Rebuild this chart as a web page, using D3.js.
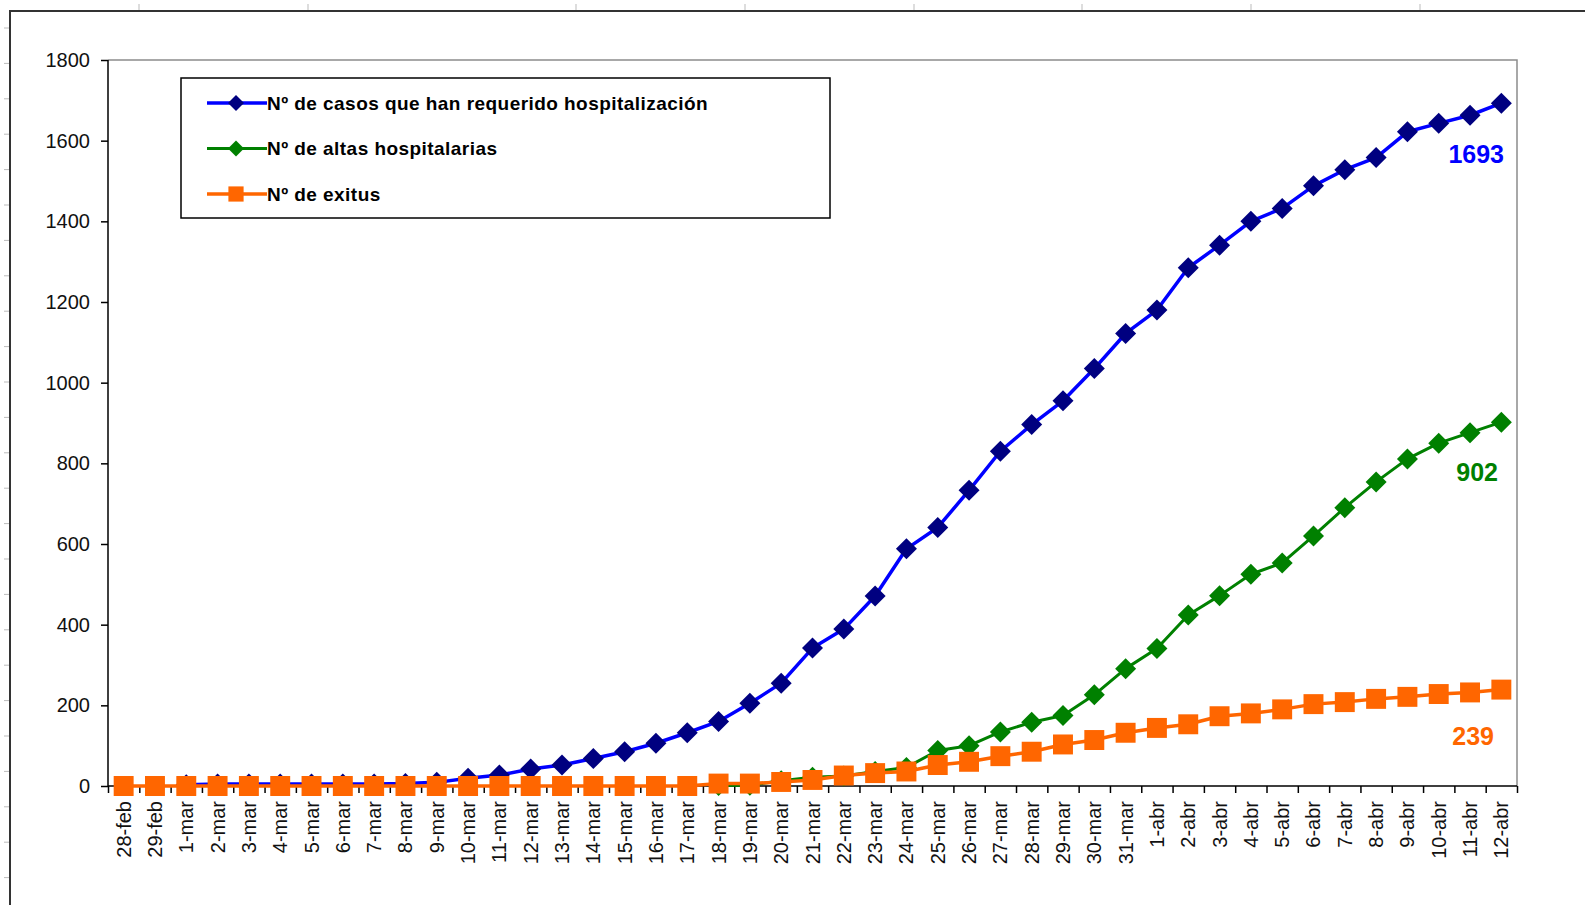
<!DOCTYPE html>
<html>
<head>
<meta charset="utf-8">
<script src="https://cdn.jsdelivr.net/npm/d3@7"></script>
<style>
  html, body { margin: 0; padding: 0; background: #fff; }
  svg { display: block; font-family: "Liberation Sans", Arial, sans-serif; }
</style>
</head>
<body>
<svg id="chart"></svg>
<script>
// Fechas del eje X
const fechas = [
  '28-feb', '29-feb',
  '1-mar', '2-mar', '3-mar', '4-mar', '5-mar', '6-mar', '7-mar', '8-mar',
  '9-mar', '10-mar', '11-mar', '12-mar', '13-mar', '14-mar', '15-mar',
  '16-mar', '17-mar', '18-mar', '19-mar', '20-mar', '21-mar', '22-mar',
  '23-mar', '24-mar', '25-mar', '26-mar', '27-mar', '28-mar', '29-mar',
  '30-mar', '31-mar',
  '1-abr', '2-abr', '3-abr', '4-abr', '5-abr', '6-abr', '7-abr', '8-abr',
  '9-abr', '10-abr', '11-abr', '12-abr',
];

// Nº de casos que han requerido hospitalización
const hospitalizados = [
  null, null, 3, 5, 5, 5, 5, 5, 5, 6,
  9, 19, 27, 42, 52, 68, 85, 106, 132, 160,
  205, 255, 342, 389, 471, 588, 641, 733, 830, 896,
  955, 1035, 1122, 1180, 1285, 1341, 1400, 1432, 1488, 1528,
  1558, 1622, 1643, 1663, 1693,
];

// Nº de altas hospitalarias
const altas = [
  null, null, null, null, null, null, null, null, null, null,
  null, null, null, null, null, null, null, null, null, 1,
  2, 13, 22, 25, 36, 46, 88, 100, 134, 158,
  175, 226, 291, 341, 424, 472, 525, 553, 620, 690,
  754, 811, 850, 876, 902,
];

// Nº de exitus
const exitus = [
  0, 0, 0, 0, 0, 0, 0, 0, 0, 0,
  0, 0, 0, 0, 0, 0, 0, 0, 0, 6,
  6, 10, 15, 26, 32, 36, 52, 60, 74, 85,
  103, 114, 132, 144, 153, 173, 180, 190, 203, 208,
  216, 221, 228, 232, 239,
];

const yTicks = [0, 200, 400, 600, 800, 1000, 1200, 1400, 1600, 1800];

const series = [
  {name: 'Nº de casos que han requerido hospitalización', values: hospitalizados,
    line: '#0000ff', marker: '#000080', shape: 'diamond', width: 3.5,
    label: '#0000ff'},
  {name: 'Nº de altas hospitalarias', values: altas,
    line: '#008000', marker: '#008000', shape: 'diamond', width: 3,
    label: '#008000'},
  {name: 'Nº de exitus', values: exitus,
    line: '#ff6600', marker: '#ff6600', shape: 'square', width: 3.5,
    label: '#ff6600'},
];

const width = 1585;
const height = 905;
const plot = {left: 108, right: 1517, top: 60, bottom: 786};

const svg = d3.select('#chart')
    .attr('width', width)
    .attr('height', height)
    .attr('viewBox', [0, 0, width, height]);

// Outer sheet frame with the little spreadsheet grid marks
svg.append('g')
    .attr('stroke', '#bbb')
    .attr('stroke-width', 1)
    .selectAll('line')
    .data([139, 308, 576, 745, 914, 1082, 1251, 1420])
    .join('line')
    .attr('x1', (d) => d).attr('x2', (d) => d)
    .attr('y1', 4).attr('y2', 10);

svg.append('g')
    .attr('stroke', '#bbb')
    .attr('stroke-width', 1)
    .selectAll('line')
    .data(d3.range(25).map((k) => 28 + k * 35.4))
    .join('line')
    .attr('x1', 4).attr('x2', 9)
    .attr('y1', (d) => d).attr('y2', (d) => d);

svg.append('path')
    .attr('d', `M10,${height} V11 H${width}`)
    .attr('fill', 'none')
    .attr('stroke', '#333')
    .attr('stroke-width', 2);

// Scales
const x = d3.scaleBand()
    .domain(fechas)
    .range([plot.left, plot.right]);
const xEdge = d3.scaleLinear()
    .domain([0, fechas.length])
    .range([plot.left, plot.right]);
const y = d3.scaleLinear()
    .domain([0, 1800])
    .range([plot.bottom, plot.top]);
const cx = (d) => x(d) + x.bandwidth() / 2;

// Plot area border (top & right grey)
svg.append('path')
    .attr('d', `M${plot.left},${plot.top} H${plot.right} V${plot.bottom}`)
    .attr('fill', 'none')
    .attr('stroke', '#8c8c8c')
    .attr('stroke-width', 1.5);

// Y axis
const yAxis = svg.append('g')
    .attr('transform', `translate(${plot.left},0)`)
    .call(d3.axisLeft(y).tickValues(yTicks).tickFormat(d3.format('d'))
        .tickSize(7).tickPadding(11));
yAxis.select('.domain').remove();
yAxis.selectAll('.tick line').attr('stroke', '#000').attr('stroke-width', 1.5);
yAxis.selectAll('.tick text')
    .attr('font-size', 20)
    .attr('font-family', '"Liberation Sans", Arial, sans-serif')
    .attr('fill', '#111');

// X axis ticks between categories
const xAxis = svg.append('g')
    .attr('transform', `translate(0,${plot.bottom})`)
    .call(d3.axisBottom(xEdge).tickValues(d3.range(fechas.length + 1))
        .tickSize(7).tickFormat(''));
xAxis.select('.domain').remove();
xAxis.selectAll('.tick line').attr('stroke', '#000').attr('stroke-width', 1.5);

// X labels, rotated
svg.append('g')
    .selectAll('text')
    .data(fechas)
    .join('text')
    .attr('transform', (d) => `translate(${cx(d)},801) rotate(-90)`)
    .attr('text-anchor', 'end')
    .attr('dy', '0.35em')
    .attr('font-size', 20)
    .attr('fill', '#111')
    .text((d) => d);

// Axis lines (black)
svg.append('path')
    .attr('d', `M${plot.left},${plot.top} V${plot.bottom} H${plot.right}`)
    .attr('fill', 'none')
    .attr('stroke', '#000')
    .attr('stroke-width', 1.5);

// Markers
const diamond = (r) => `M0,${-r} L${r},0 L0,${r} L${-r},0 Z`;
const square = (r) => `M${-r},${-r} H${r} V${r} H${-r} Z`;
const shapePath = (s, size) => s.shape === 'square' ? square(size * 0.95) : diamond(size);

const line = d3.line()
    .defined((d) => d != null)
    .x((d, i) => cx(fechas[i]))
    .y((d) => y(d));

series.forEach((s) => {
  const g = svg.append('g');
  g.append('path')
      .attr('d', line(s.values))
      .attr('fill', 'none')
      .attr('stroke', s.line)
      .attr('stroke-width', s.width)
      .attr('stroke-linejoin', 'round');
  g.selectAll('path.m')
      .data(s.values.map((v, i) => ({v, i})).filter((d) => d.v != null))
      .join('path')
      .attr('class', 'm')
      .attr('transform', (d) => `translate(${cx(fechas[d.i])},${y(d.v)})`)
      .attr('d', shapePath(s, 10.5))
      .attr('fill', s.marker);
});

// Last value labels
const last = fechas.length - 1;
const labelPos = [
  {x: 1504, y: 163},
  {x: 1498, y: 481},
  {x: 1494, y: 745},
];
series.forEach((s, k) => {
  svg.append('text')
      .attr('x', labelPos[k].x)
      .attr('y', labelPos[k].y)
      .attr('text-anchor', 'end')
      .attr('font-size', 25)
      .attr('font-weight', 'bold')
      .attr('fill', s.label)
      .text(s.values[last]);
});

// Legend
const legend = svg.append('g').attr('transform', 'translate(181,78)');
legend.append('rect')
    .attr('width', 649)
    .attr('height', 140)
    .attr('fill', '#fff')
    .attr('stroke', '#000')
    .attr('stroke-width', 1.5);

const rows = legend.selectAll('g')
    .data(series)
    .join('g')
    .attr('transform', (d, i) => `translate(0,${25 + i * 45.5})`);
rows.append('line')
    .attr('x1', 26).attr('x2', 86)
    .attr('stroke', (d) => d.line)
    .attr('stroke-width', (d) => d.width);
rows.append('path')
    .attr('transform', 'translate(55,0)')
    .attr('d', (d) => shapePath(d, 8))
    .attr('fill', (d) => d.marker);
rows.append('text')
    .attr('x', 86)
    .attr('dy', '0.35em')
    .attr('font-size', 19)
    .attr('letter-spacing', 0.45)
    .attr('font-weight', 'bold')
    .attr('fill', '#000')
    .text((d) => d.name);
</script>
</body>
</html>
